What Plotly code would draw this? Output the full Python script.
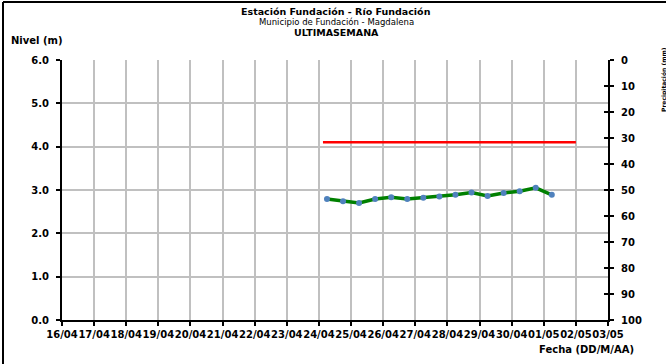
import plotly.graph_objects as go

# ---------------- data ----------------
dates = [
    "2016-04-24 06:00", "2016-04-24 18:00",
    "2016-04-25 06:00", "2016-04-25 18:00",
    "2016-04-26 06:00", "2016-04-26 18:00",
    "2016-04-27 06:00", "2016-04-27 18:00",
    "2016-04-28 06:00", "2016-04-28 18:00",
    "2016-04-29 06:00", "2016-04-29 18:00",
    "2016-04-30 06:00", "2016-04-30 18:00",
    "2016-05-01 06:00",
]
nivel = [2.79, 2.74, 2.70, 2.79, 2.83, 2.79, 2.82, 2.85, 2.89, 2.94,
         2.86, 2.93, 2.97, 3.05, 2.89]

threshold_dates = ["2016-04-24 03:00", "2016-05-02 00:00"]
threshold_level = [4.1, 4.1]

tick_dates = [
    "2016-04-16", "2016-04-17", "2016-04-18", "2016-04-19", "2016-04-20",
    "2016-04-21", "2016-04-22", "2016-04-23", "2016-04-24", "2016-04-25",
    "2016-04-26", "2016-04-27", "2016-04-28", "2016-04-29", "2016-04-30",
    "2016-05-01", "2016-05-02", "2016-05-03",
]
tick_labels = [
    "16/04", "17/04", "18/04", "19/04", "20/04", "21/04", "22/04", "23/04",
    "24/04", "25/04", "26/04", "27/04", "28/04", "29/04", "30/04",
    "01/05", "02/05", "03/05",
]
y_ticks = [0, 1, 2, 3, 4, 5, 6]
y_labels = ["0.0", "1.0", "2.0", "3.0", "4.0", "5.0", "6.0"]
precip_ticks = [0, 10, 20, 30, 40, 50, 60, 70, 80, 90, 100]

# ---------------- layout geometry ----------------
W, H = 666, 364
ML, MR, MT, MB = 62, 58, 60, 44
PW, PH = W - ML - MR, H - MT - MB


def px(x):
    return (x - ML) / PW


def py(y):
    return (H - MB - y) / PH


FONT = "DejaVu Sans"
GRID = "#c0c0c0"

fig = go.Figure()

fig.add_trace(go.Scatter(
    x=threshold_dates, y=threshold_level, mode="lines",
    line=dict(color="#ff0000", width=2.5), hoverinfo="skip", showlegend=False,
))
fig.add_trace(go.Scatter(
    x=dates, y=nivel, mode="lines+markers",
    line=dict(color="#008000", width=3.5),
    marker=dict(color="#4f81bd", size=6, line=dict(width=0)),
    showlegend=False,
))
# dummy traces so the secondary axes render
fig.add_trace(go.Scatter(x=[tick_dates[0]], y=[None], yaxis="y2",
                         showlegend=False, hoverinfo="skip"))
fig.add_trace(go.Scatter(x=[tick_dates[0]], y=[None], yaxis="y3",
                         showlegend=False, hoverinfo="skip"))

xtickfont = dict(family=FONT, size=10, color="black", weight="bold")
ytickfont = dict(family=FONT, size=10, color="black", weight="bold")

fig.update_layout(
    width=W, height=H,
    margin=dict(l=ML, r=MR, t=MT, b=MB, pad=0, autoexpand=False),
    paper_bgcolor="white", plot_bgcolor="white",
    xaxis=dict(
        range=[tick_dates[0], tick_dates[-1]],
        tickmode="array", tickvals=tick_dates, ticktext=tick_labels,
        tickfont=xtickfont, tickangle=0, ticks="outside", ticklen=4,
        tickwidth=1.5, tickcolor="black", automargin=False,
        showgrid=True, gridcolor=GRID, gridwidth=2,
        showline=True, linecolor="black", linewidth=2,
        zeroline=False, fixedrange=True,
    ),
    yaxis=dict(
        range=[0, 6], tickmode="array", tickvals=y_ticks, ticktext=y_labels,
        tickfont=ytickfont, ticks="outside", ticklen=4, tickwidth=1.5,
        tickcolor="black", ticklabelstandoff=5, automargin=False,
        showgrid=True, gridcolor=GRID, gridwidth=1.5,
        showline=True, linecolor="black", linewidth=2,
        zeroline=False,
    ),
    yaxis2=dict(
        overlaying="y", side="right", range=[100, 0],
        tickmode="array", tickvals=precip_ticks, automargin=False,
        tickfont=ytickfont, ticks="outside", ticklen=4, tickwidth=1.5,
        tickcolor="black", showgrid=False, ticklabelstandoff=5,
        showline=True, linecolor="black", linewidth=2, zeroline=False,
    ),
    yaxis3=dict(
        overlaying="y", side="right", range=[100, 0], automargin=False,
        tickmode="array", tickvals=precip_ticks, showticklabels=False,
        ticks="inside", ticklen=4, tickwidth=1.5, tickcolor="black",
        showgrid=False, showline=False, zeroline=False,
    ),
    showlegend=False,
)

annotations = [
    dict(text="Estación Fundación - Río Fundación", x=px(336), y=py(11.5),
         font=dict(family=FONT, size=9.5, color="black", weight="bold")),
    dict(text="Municipio de Fundación - Magdalena", x=px(336), y=py(22),
         font=dict(family=FONT, size=8.5, color="black")),
    dict(text="ULTIMASEMANA", x=px(336), y=py(32.5),
         font=dict(family=FONT, size=9.5, color="black", weight="bold")),
    dict(text="Nivel (m)", x=px(37), y=py(40),
         font=dict(family=FONT, size=10, color="black", weight="bold")),
    dict(text="Fecha (DD/M/AA)", x=px(586), y=py(349),
         font=dict(family=FONT, size=10, color="black", weight="bold")),
    dict(text="Precipitación (mm)", x=px(658), y=py(80), textangle=-90,
         xanchor="left",
         font=dict(family=FONT, size=6, color="black", weight="bold")),
]
for a in annotations:
    a.setdefault("xanchor", "center")
    a.update(xref="paper", yref="paper", showarrow=False, yanchor="middle")
fig.update_layout(annotations=annotations)

# outer frame of the original picture (only left and top edges are visible)
fig.add_shape(type="line", xref="paper", yref="paper",
              x0=px(3), x1=px(3), y0=py(2), y1=py(H + 5),
              line=dict(color="black", width=2))
fig.add_shape(type="line", xref="paper", yref="paper",
              x0=px(3), x1=px(W + 5), y0=py(2), y1=py(2),
              line=dict(color="black", width=2))

fig.write_html(
    "out.html",
    config={"displayModeBar": False},
    post_script="document.body.style.margin='0px';"
                "document.body.style.overflow='hidden';",
)
